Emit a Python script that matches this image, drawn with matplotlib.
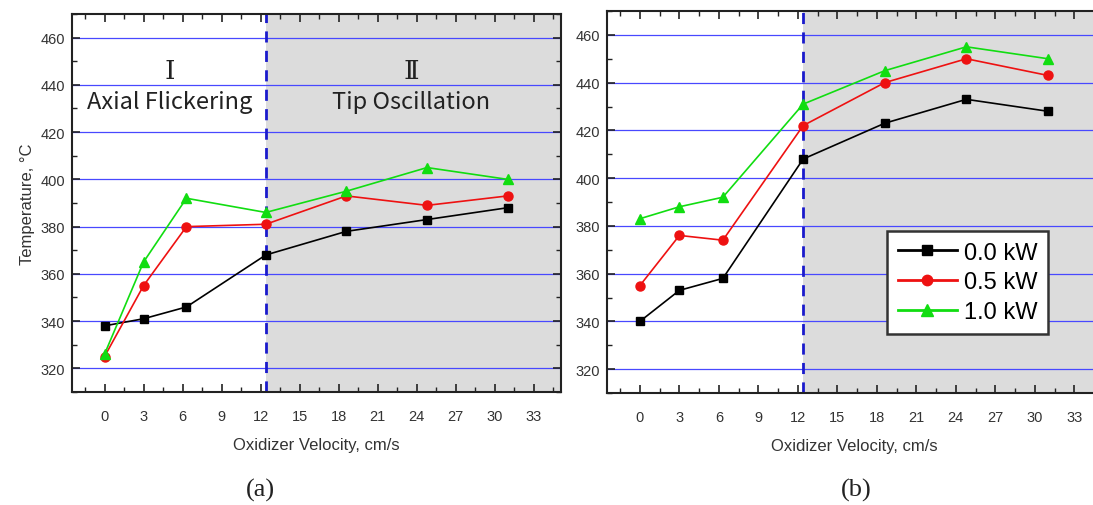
import matplotlib
matplotlib.use("Agg")
import matplotlib.pyplot as plt
from matplotlib.ticker import MultipleLocator

# ---- data ----
velocity = [0, 3.0, 6.3, 12.4, 18.6, 24.8, 31.0]
series_labels = ["0.0 kW", "0.5 kW", "1.0 kW"]
temp_a_00 = [338, 341, 346, 368, 378, 383, 388]
temp_a_05 = [325, 355, 380, 381, 393, 389, 393]
temp_a_10 = [326, 365, 392, 386, 395, 405, 400]
temp_b_00 = [340, 353, 358, 408, 423, 433, 428]
temp_b_05 = [355, 376, 374, 422, 440, 450, 443]
temp_b_10 = [383, 388, 392, 431, 445, 455, 450]
regime_boundary = 12.4
x_ticks = [0, 3, 6, 9, 12, 15, 18, 21, 24, 27, 30, 33]
y_ticks = [320, 340, 360, 380, 400, 420, 440, 460]
xlabel = "Oxidizer Velocity, cm/s"
ylabel = "Temperature, °C"
panel_labels = ["(a)", "(b)"]

W, H = 1093, 506
fig = plt.figure(figsize=(W / 100, H / 100), dpi=100)

tick_font = ["Liberation Sans Narrow", "Liberation Sans", "DejaVu Sans"]
styles = [
    dict(color="black", marker="s", ms=6, mfc="black", mec="black"),
    dict(color="#ee1111", marker="o", ms=6.5, mfc="#ee1111", mec="#ee1111"),
    dict(color="#11dd11", marker="^", ms=7, mfc="#11dd11", mec="#11dd11"),
]


def px_axes(x0, y0, x1, y1):
    return fig.add_axes([x0 / W, 1 - y1 / H, (x1 - x0) / W, (y1 - y0) / H])


def setup(ax, series, show_ylabel):
    ax.set_xlim(-2.5, 35.1)
    ax.set_ylim(310, 470)
    ax.axvspan(regime_boundary, 40, color="#dcdcdc", zorder=0, lw=0)
    for yv in y_ticks:
        ax.axhline(yv, color="#4848ff", lw=0.9, zorder=1)
    ax.axvline(regime_boundary, color="#1a1acc", lw=2, ls=(0, (4, 3)), zorder=2)
    for ys, lab, st in zip(series, series_labels, styles):
        ax.plot(velocity, ys, lw=1.2, label=lab, zorder=3, **st)
    ax.set_xticks(x_ticks)
    ax.set_yticks(y_ticks)
    ax.xaxis.set_minor_locator(MultipleLocator(1.5))
    ax.yaxis.set_minor_locator(MultipleLocator(10))
    ax.tick_params(which="both", direction="in", top=True, right=True,
                   colors="#222222", labelcolor="#333333")
    ax.tick_params(which="major", length=6, width=1.2, labelsize=10.5, pad=12)
    ax.tick_params(which="minor", length=3.5, width=1.0)
    ax.tick_params(axis="y", which="major", pad=5)
    for lab in ax.get_xticklabels() + ax.get_yticklabels():
        lab.set_family(tick_font)
    for sp in ax.spines.values():
        sp.set_linewidth(1.5)
        sp.set_color("#222222")
    ax.set_xlabel(xlabel, fontsize=12, family=tick_font, color="#333333", labelpad=10)
    if show_ylabel:
        ax.set_ylabel(ylabel, fontsize=12, family=tick_font, color="#333333", labelpad=4)


ax1 = px_axes(72, 15, 561, 393)
setup(ax1, [temp_a_00, temp_a_05, temp_a_10], True)
roman_font = ["DejaVu Serif", "Noto Sans CJK KR"]
label_font = ["Noto Sans CJK KR", "DejaVu Sans"]
ax1.text(5.0, 446, "Ⅰ", ha="center", va="center", fontsize=19,
         family=roman_font, color="#222222")
ax1.text(23.6, 446, "Ⅱ", ha="center", va="center", fontsize=19,
         family=roman_font, color="#222222")
ax1.text(5.0, 433, "Axial Flickering", ha="center", va="center", fontsize=17,
         family=label_font, color="#222222")
ax1.text(23.6, 433, "Tip Oscillation", ha="center", va="center", fontsize=17,
         family=label_font, color="#222222")

ax2 = px_axes(607, 12, 1102, 394)
setup(ax2, [temp_b_00, temp_b_05, temp_b_10], False)
leg = ax2.legend(loc="upper left", bbox_to_anchor=(0.566, 0.424),
                 frameon=True, fancybox=False, edgecolor="#333333", framealpha=1,
                 handlelength=2.5, labelspacing=0.33, markerscale=1.15,
                 borderpad=0.45, handletextpad=0.3, borderaxespad=0,
                 prop={"family": ["Liberation Sans", "DejaVu Sans"], "size": 17})
leg.get_frame().set_linewidth(1.8)
for line in leg.get_lines():
    line.set_linewidth(2.0)

fig.text(260 / W, 1 - 490 / H, panel_labels[0], ha="center", va="center",
         fontsize=19, family=["Liberation Serif", "DejaVu Serif"], color="#222222")
fig.text(856 / W, 1 - 490 / H, panel_labels[1], ha="center", va="center",
         fontsize=19, family=["Liberation Serif", "DejaVu Serif"], color="#222222")

fig.savefig("out.png", dpi=100)
